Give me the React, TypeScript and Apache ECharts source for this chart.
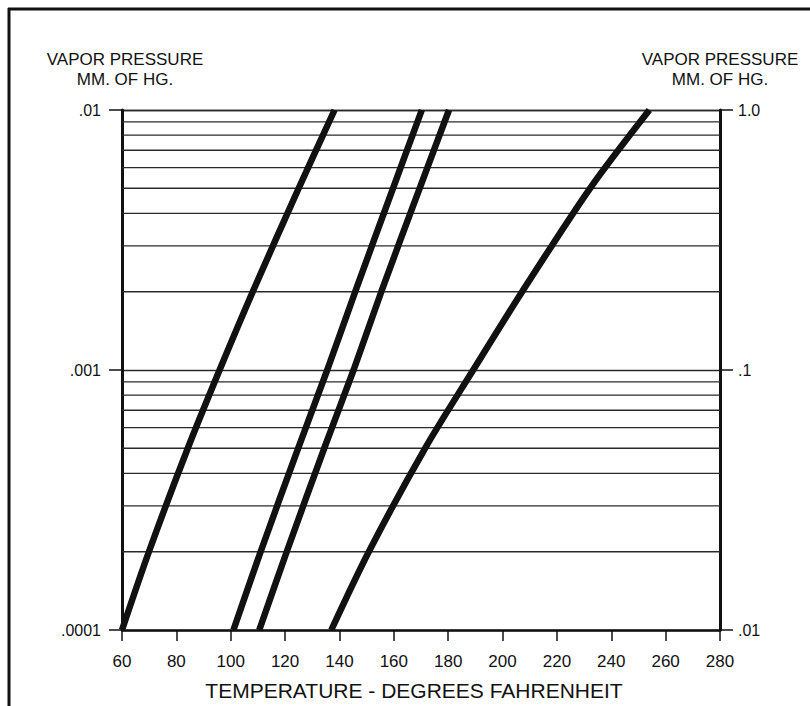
import React, { useEffect, useRef } from "react";
import * as echarts from "echarts";

// Vapor pressure (mm Hg, left scale) at which each curve's temperature is read
const PRESSURE_MMHG = [0.0001, 0.0002, 0.0005, 0.001, 0.002, 0.005, 0.01];

// Temperature (°F) of each curve at the pressures above
const CURVE_A_TEMP_F = [60, 69.9, 84.2, 95.9, 108.1, 125.0, 138.2];
const CURVE_B_TEMP_F = [101, 111, 124.8, 135.5, 145.8, 159.7, 170.3];
const CURVE_C_TEMP_F = [110.5, 120.6, 134.4, 145.2, 155.4, 169.5, 180.3];
const CURVE_D_TEMP_F = [137, 150.8, 171.5, 189.2, 207.2, 232.2, 254];

// Temperature range of the chart
const TEMP_MIN = 60;
const TEMP_MAX = 280;

// Intermediate horizontal rulings on the log scale
const MINOR_GRID = [
  0.0002, 0.0003, 0.0004, 0.0005, 0.0006, 0.0007, 0.0008, 0.0009,
  0.002, 0.003, 0.004, 0.005, 0.006, 0.007, 0.008, 0.009,
];

// Tick labels keyed by decade exponent
const LEFT_LABELS: Record<string, string> = { "-4": ".0001", "-3": ".001", "-2": ".01" };
const RIGHT_LABELS: Record<string, string> = { "-2": ".01", "-1": ".1", "0": "1.0" };

const AXIS_TITLE = ["VAPOR PRESSURE", "MM. OF HG."];
const X_TITLE = "TEMPERATURE - DEGREES FAHRENHEIT";

const FONT = '"Liberation Sans", Arial, Helvetica, sans-serif';
const INK = "#111111";
const RULE = "#2a2a2a";

const pairs = (temps: number[]) => temps.map((t, i) => [t, PRESSURE_MMHG[i]]);
const decade = (v: number) => String(Math.round(Math.log10(v)));

export default function App() {
  const ref = useRef<HTMLDivElement>(null);

  useEffect(() => {
    if (!ref.current) return;
    const chart = echarts.init(ref.current, null, { renderer: "svg" });

    const curve = (name: string, temps: number[]) => ({
      name,
      type: "line",
      data: pairs(temps),
      showSymbol: false,
      smooth: 0.3,
      clip: true,
      z: 5,
      silent: true,
      lineStyle: { color: INK, width: 6.5 },
    });

    const rulings = MINOR_GRID.map((v) => ({
      type: "line",
      data: [
        [TEMP_MIN, v],
        [TEMP_MAX, v],
      ],
      showSymbol: false,
      silent: true,
      z: 1,
      lineStyle: { color: RULE, width: 1.3 },
    }));

    const titleText = (x: number) => [
      {
        type: "text",
        x,
        y: 59,
        style: { text: AXIS_TITLE[0], font: `17px ${FONT}`, fill: INK, align: "center", verticalAlign: "middle" },
      },
      {
        type: "text",
        x,
        y: 79,
        style: { text: AXIS_TITLE[1], font: `17px ${FONT}`, fill: INK, align: "center", verticalAlign: "middle" },
      },
    ];

    chart.setOption({
      animation: false,
      backgroundColor: "#ffffff",
      textStyle: { fontFamily: FONT },
      grid: { left: 122, right: 90, top: 110, bottom: 76, containLabel: false },
      xAxis: {
        type: "value",
        min: TEMP_MIN,
        max: TEMP_MAX,
        interval: 20,
        axisLine: { show: true, onZero: false, lineStyle: { color: INK, width: 2.5 } },
        axisTick: { show: true, length: 11, lineStyle: { color: INK, width: 1.5 } },
        axisLabel: { fontSize: 17, color: INK, margin: 23, fontFamily: FONT },
        splitLine: { show: false },
      },
      yAxis: [
        {
          type: "log",
          logBase: 10,
          min: 0.0001,
          max: 0.01,
          position: "left",
          axisLine: { show: true, lineStyle: { color: INK, width: 3 } },
          axisTick: { show: true, length: 13, lineStyle: { color: INK, width: 1.5 } },
          axisLabel: {
            fontSize: 16,
            color: INK,
            margin: 21,
            fontFamily: FONT,
            formatter: (v: number) => LEFT_LABELS[decade(v)] ?? "",
          },
          splitLine: { show: true, lineStyle: { color: RULE, width: 1.3 } },
        },
        {
          type: "log",
          logBase: 10,
          min: 0.01,
          max: 1,
          position: "right",
          axisLine: { show: true, lineStyle: { color: INK, width: 3 } },
          axisTick: { show: true, length: 13, lineStyle: { color: INK, width: 1.5 } },
          axisLabel: {
            fontSize: 16,
            color: INK,
            margin: 18,
            fontFamily: FONT,
            formatter: (v: number) => RIGHT_LABELS[decade(v)] ?? "",
          },
          splitLine: { show: false },
        },
      ],
      series: [
        ...rulings,
        curve("A", CURVE_A_TEMP_F),
        curve("B", CURVE_B_TEMP_F),
        curve("C", CURVE_C_TEMP_F),
        curve("D", CURVE_D_TEMP_F),
      ],
      graphic: [
        // page frame: top rule and left rule
        { type: "line", shape: { x1: 8, y1: 9, x2: 810, y2: 9 }, style: { stroke: INK, lineWidth: 3 } },
        { type: "line", shape: { x1: 9, y1: 8, x2: 9, y2: 706 }, style: { stroke: INK, lineWidth: 3 } },
        ...titleText(125),
        ...titleText(720),
        {
          type: "text",
          x: 414,
          y: 690,
          style: { text: X_TITLE, font: `21px ${FONT}`, fill: INK, align: "center", verticalAlign: "middle" },
        },
      ],
    });

    return () => chart.dispose();
  }, []);

  return (
    <div
      ref={ref}
      style={{ position: "fixed", left: 0, top: 0, width: 810, height: 706, background: "#fff" }}
    />
  );
}
